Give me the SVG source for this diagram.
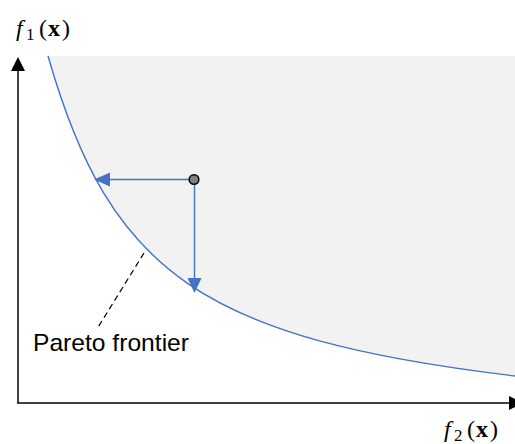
<svg xmlns="http://www.w3.org/2000/svg" width="515" height="444" viewBox="0 0 515 444">
<style>
.axis{stroke:#000;stroke-width:1.5;fill:none}
.head{fill:#000}
.blue{stroke:#4472c4;stroke-width:1.4;fill:none}
.bhead{fill:#4472c4}
.lbl{font-family:"Liberation Serif",serif;font-size:24px;fill:#000}
.sub{font-size:17px}
.txt{font-family:"Liberation Sans",Arial,sans-serif;font-size:24px;fill:#000}
</style>
<rect width="515" height="444" fill="#fff"/>
<g id="region">
<path d="M48,56 C110.5,274.4 203.8,338.4 515,376 L515,56 Z" fill="#f2f2f2"/>
</g>
<g id="axes">
<line class="axis" x1="18" y1="403" x2="18" y2="70"/>
<polygon class="head" points="18,57 11,71 25,71"/>
<line class="axis" x1="17.25" y1="403" x2="510" y2="403"/>
<polygon class="head" points="523,403 509,396 509,410"/>
</g>
<g id="frontier">
<path class="blue" d="M48,56 C110.5,274.4 203.8,338.4 515,376"/>
</g>
<g id="connectors">
<line class="blue" x1="189" y1="179.5" x2="108" y2="179.5"/>
<polygon class="bhead" points="94,179.5 110,172.5 110,186.5"/>
<line class="blue" x1="194.5" y1="184" x2="194.5" y2="280"/>
<polygon class="bhead" points="194.5,293 187.5,278 201.5,278"/>
<line x1="144" y1="253" x2="97" y2="329" stroke="#000" stroke-width="1.2" stroke-dasharray="6,4"/>
</g>
<g id="point">
<circle cx="194" cy="179.5" r="4.8" fill="#808080" stroke="#000" stroke-width="1.5"/>
</g>
<g id="label-f1">
<text class="lbl" y="36"><tspan x="16" font-style="italic">f</tspan><tspan class="sub" x="26" y="40">1</tspan><tspan x="39" y="36">(</tspan><tspan x="48" font-weight="bold">x</tspan><tspan x="62">)</tspan></text>
</g>
<g id="label-f2">
<text class="lbl" y="437"><tspan x="444" font-style="italic">f</tspan><tspan class="sub" x="454" y="441">2</tspan><tspan x="467" y="437">(</tspan><tspan x="476" font-weight="bold">x</tspan><tspan x="490">)</tspan></text>
</g>
<g id="label-pareto">
<text class="txt" x="33" y="351" textLength="156" lengthAdjust="spacingAndGlyphs">Pareto frontier</text>
</g>
</svg>
